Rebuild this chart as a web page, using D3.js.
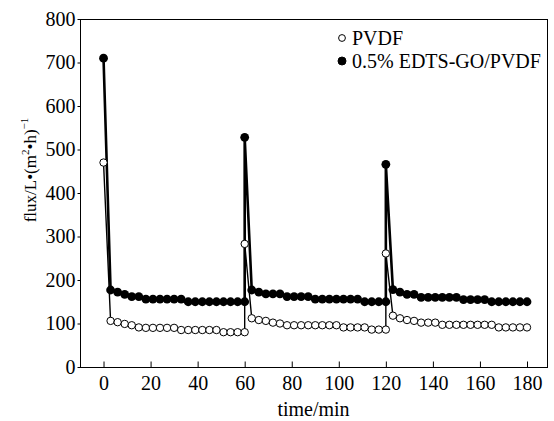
<!DOCTYPE html>
<html>
<head>
<meta charset="utf-8">
<script src="https://cdn.jsdelivr.net/npm/d3@7"></script>
<style>
  body { margin: 0; background: #fff; }
  svg text { font-family: 'Liberation Serif', 'Times New Roman', serif; fill: #000; }
  .axis path, .axis line { stroke: #000; }
  .axis text { font-size: 20px; }
</style>
</head>
<body>
<script>
// time points, three filtration cycles (spike at start of each)
const times = [
  0, 3, 6, 9, 12, 15, 18, 21, 24, 27, 30, 33, 36, 39, 42, 45, 48, 51, 54, 57, 60,
  60, 63, 66, 69, 72, 75, 78, 81, 84, 87, 90, 93, 96, 99, 102, 105, 108, 111, 114, 117, 120,
  120, 123, 126, 129, 132, 135, 138, 141, 144, 147, 150, 153, 156, 159, 162, 165, 168, 171, 174, 177, 180
]
const pvdf = [
  470, 106, 103, 99, 96, 91, 90, 90, 90, 90, 90, 85, 85, 85, 85, 85, 85, 80, 80, 80, 80,
  283, 112, 108, 106, 102, 100, 96, 96, 96, 96, 96, 96, 96, 96, 91, 91, 91, 91, 86, 86, 86,
  261, 118, 112, 108, 106, 102, 102, 102, 97, 97, 97, 97, 97, 97, 97, 97, 91, 91, 91, 91, 91
]
const edts = [
  710, 177, 172, 167, 162, 162, 156, 156, 156, 156, 156, 156, 150, 150, 150, 150, 150, 150, 150, 150, 150,
  528, 177, 172, 168, 168, 168, 162, 162, 162, 162, 156, 156, 156, 156, 156, 156, 156, 150, 150, 150, 150,
  466, 178, 172, 167, 167, 160, 160, 160, 160, 160, 160, 155, 155, 155, 155, 150, 150, 150, 150, 150, 150
]
const xTicks = [0, 20, 40, 60, 80, 100, 120, 140, 160, 180]
const yTicks = [0, 100, 200, 300, 400, 500, 600, 700, 800]
const seriesNames = ['PVDF', '0.5% EDTS-GO/PVDF']

const svgWidth = 554, svgHeight = 421
const plot = {left: 80, right: 547, top: 19, bottom: 367}

const svg = d3.select('body').append('svg')
  .attr('width', svgWidth)
  .attr('height', svgHeight)

const x = d3.scaleLinear().domain([-10, 188.5]).range([plot.left, plot.right])
const y = d3.scaleLinear().domain([0, 800]).range([plot.bottom, plot.top])

// frame
svg.append('rect')
  .attr('x', plot.left + 0.5)
  .attr('y', plot.top + 0.5)
  .attr('width', plot.right - plot.left)
  .attr('height', plot.bottom - plot.top)
  .attr('fill', 'none')
  .attr('stroke', '#000')

svg.append('g')
  .attr('class', 'axis axis--x')
  .attr('transform', 'translate(0,' + (plot.bottom + 0.5) + ')')
  .call(d3.axisBottom(x).tickValues(xTicks).tickSizeInner(-6).tickSizeOuter(0).tickPadding(8))
  .call(g => g.attr('font-family', null).attr('font-size', null))
  .call(g => g.select('.domain').remove())

svg.append('g')
  .attr('class', 'axis axis--y')
  .attr('transform', 'translate(' + (plot.left + 0.5) + ',0)')
  .call(d3.axisLeft(y).tickValues(yTicks).tickSizeInner(3).tickSizeOuter(0).tickPadding(2))
  .call(g => g.attr('font-family', null).attr('font-size', null))
  .call(g => g.select('.domain').remove())

const data = times.map(function(t, i) { return {t: t, pvdf: pvdf[i], edts: edts[i]} })

const lineEdts = d3.line().x(d => x(d.t)).y(d => y(d.edts))
const linePvdf = d3.line().x(d => x(d.t)).y(d => y(d.pvdf))

svg.append('path')
  .datum(data)
  .attr('d', lineEdts)
  .attr('fill', 'none')
  .attr('stroke', '#000')
  .attr('stroke-width', 2.6)

svg.append('path')
  .datum(data)
  .attr('d', linePvdf)
  .attr('fill', 'none')
  .attr('stroke', '#000')
  .attr('stroke-width', 1.4)

svg.append('g').selectAll('circle')
  .data(data)
  .join('circle')
  .attr('cx', d => x(d.t))
  .attr('cy', d => y(d.edts))
  .attr('r', 4.4)
  .attr('fill', '#000')

svg.append('g').selectAll('circle')
  .data(data)
  .join('circle')
  .attr('cx', d => x(d.t))
  .attr('cy', d => y(d.pvdf))
  .attr('r', 3.7)
  .attr('fill', '#fff')
  .attr('stroke', '#000')
  .attr('stroke-width', 1)

// legend
const legend = svg.append('g').attr('transform', 'translate(342,38)')
seriesNames.forEach(function(name, i) {
  const g = legend.append('g').attr('transform', 'translate(0,' + (i * 23) + ')')
  g.append('circle')
    .attr('r', i === 0 ? 3.4 : 4)
    .attr('fill', i === 0 ? '#fff' : '#000')
    .attr('stroke', '#000')
    .attr('stroke-width', 1)
  g.append('text')
    .attr('x', 10)
    .attr('dy', '0.35em')
    .attr('font-size', 20)
    .text(name)
})

// axis titles
svg.append('text')
  .attr('x', (plot.left + plot.right) / 2)
  .attr('y', 416)
  .attr('text-anchor', 'middle')
  .attr('font-size', 20)
  .text('time/min')

const yTitle = svg.append('text')
  .attr('transform', 'translate(36,170) rotate(-90)')
  .attr('text-anchor', 'middle')
  .attr('font-size', 17)
yTitle.append('tspan').text('flux/L•(m')
yTitle.append('tspan').attr('font-size', 11).attr('dy', -7).text('2')
yTitle.append('tspan').attr('dy', 7).text('•h)')
yTitle.append('tspan').attr('font-size', 11).attr('dy', -8).text('−1')
</script>
</body>
</html>
